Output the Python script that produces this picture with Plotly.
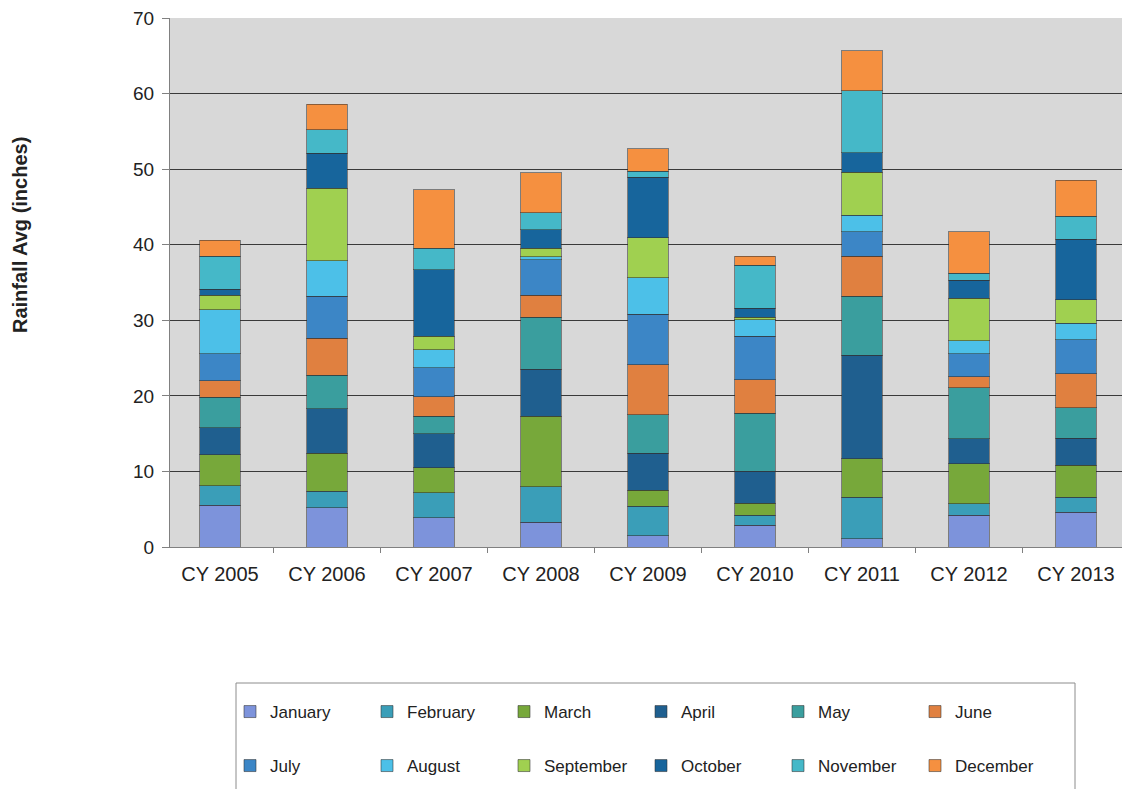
import plotly.graph_objects as go

# Calendar years on the category axis
years = ["CY 2005", "CY 2006", "CY 2007", "CY 2008", "CY 2009",
         "CY 2010", "CY 2011", "CY 2012", "CY 2013"]

# Monthly rainfall (inches) per calendar year
january = [5.5, 5.2, 3.9, 3.3, 1.5, 2.9, 1.1, 4.2, 4.6]
february = [2.6, 2.2, 3.3, 4.7, 3.9, 1.3, 5.5, 1.5, 2.0]
march = [4.1, 5.0, 3.3, 9.3, 2.1, 1.6, 5.1, 5.3, 4.2]
april = [3.6, 5.9, 4.5, 6.2, 4.9, 4.2, 13.7, 3.3, 3.6]
may = [4.0, 4.4, 2.3, 6.9, 5.1, 7.7, 7.8, 6.8, 4.0]
june = [2.2, 4.9, 2.6, 2.9, 6.6, 4.4, 5.3, 1.4, 4.5]
july = [3.6, 5.6, 3.8, 4.7, 6.7, 5.8, 3.2, 3.1, 4.5]
august = [5.8, 4.7, 2.4, 0.4, 4.8, 2.2, 2.2, 1.7, 2.2]
september = [1.9, 9.6, 1.8, 1.1, 5.3, 0.3, 5.7, 5.6, 3.1]
october = [0.8, 4.6, 8.8, 2.5, 8.0, 1.2, 2.6, 2.4, 8.0]
november = [4.4, 3.1, 2.8, 2.2, 0.8, 5.7, 8.2, 0.9, 3.1]
december = [2.1, 3.4, 7.8, 5.3, 3.0, 1.2, 5.3, 5.5, 4.7]

month_names = ["January", "February", "March", "April", "May", "June",
               "July", "August", "September", "October", "November", "December"]
month_values = [january, february, march, april, may, june,
                july, august, september, october, november, december]
month_colors = ["#7D93DB", "#3A9EB8", "#77A83A", "#1F5F8F", "#3A9E9E", "#E08040",
                "#3C86C6", "#4CC0E8", "#A0D050", "#17659C", "#45B8C8", "#F59040"]

W, H = 1122, 789
ML, MR, MT, MB = 170, 0, 18, 242
PW = W - ML - MR
PH = H - MT - MB

fig = go.Figure()
for i, (name, vals, col) in enumerate(zip(month_names, month_values, month_colors)):
    fig.add_trace(go.Bar(
        x=years, y=vals, name=name,
        marker=dict(color=col, line=dict(color="rgba(50,50,50,0.55)", width=1)),
        width=0.38,
        legend="legend" if i < 6 else "legend2",
    ))

font_family = "Liberation Sans, Arial, sans-serif"

legend_common = dict(
    orientation="h",
    xref="container", yref="container",
    xanchor="left", yanchor="middle",
    bgcolor="rgba(0,0,0,0)", borderwidth=0,
    font=dict(family=font_family, size=17, color="#222222"),
    entrywidth=92, entrywidthmode="pixels",
    itemclick=False, itemdoubleclick=False,
    traceorder="normal",
)

fig.update_layout(
    width=W, height=H,
    margin=dict(l=ML, r=MR, t=MT, b=MB),
    paper_bgcolor="white",
    plot_bgcolor="#D8D8D8",
    barmode="stack",
    showlegend=True,
    legend=dict(legend_common, x=230 / W, y=1 - 712 / H),
    legend2=dict(legend_common, x=230 / W, y=1 - 766 / H),
    xaxis=dict(
        type="category",
        range=[-0.467, 8.43],
        showgrid=False,
        showline=True, linecolor="#808080", linewidth=1,
        ticks="outside", tickson="boundaries", ticklen=5, tickcolor="#808080",
        tickfont=dict(family=font_family, size=20, color="#222222"),
        ticklabelstandoff=9,
    ),
    yaxis=dict(
        range=[0, 70],
        dtick=10,
        showgrid=True, gridcolor="#3A3A3A", gridwidth=1,
        showline=True, linecolor="#808080", linewidth=1,
        ticks="outside", ticklen=7, tickcolor="#808080",
        tickfont=dict(family=font_family, size=19, color="#222222"),
        ticklabelstandoff=4,
        zeroline=False,
    ),
    shapes=[
        # legend frame
        dict(type="rect", xref="paper", yref="paper",
             x0=(236 - ML) / PW, x1=(1075 - ML) / PW,
             y0=(MT + PH - 800) / PH, y1=(MT + PH - 683) / PH,
             line=dict(color="#8C8C8C", width=1), fillcolor="rgba(0,0,0,0)",
             layer="above"),
    ],
    annotations=[
        dict(text="<b>Rainfall Avg (inches)</b>", textangle=-90,
             xref="paper", yref="paper",
             x=(20 - ML) / PW, y=(MT + PH - 235) / PH,
             xanchor="center", yanchor="middle", showarrow=False,
             font=dict(family=font_family, size=20, color="#222222")),
    ],
)

fig.write_html("out.html")
